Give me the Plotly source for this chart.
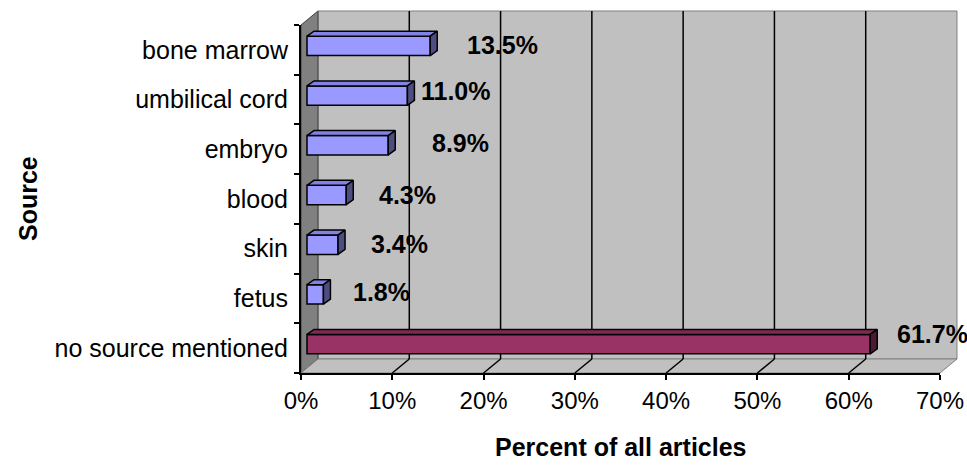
import plotly.graph_objects as go

# ---------------- data ----------------
categories = ["bone marrow", "umbilical cord", "embryo", "blood", "skin", "fetus",
              "no source mentioned"]
percent = [13.5, 11.0, 8.9, 4.3, 3.4, 1.8, 61.7]
highlight_category = "no source mentioned"
x_ticks = [0, 10, 20, 30, 40, 50, 60, 70]
x_tick_labels = [f"{t}%" for t in x_ticks]
x_title = "Percent of all articles"
y_title = "Source"

# ---------------- style / geometry ----------------
FONT = "Liberation Sans, Arial, sans-serif"
W, H = 967, 466
L, R, T, B = 301, 27, 25, 93
X_MAX = 70
n = len(categories)
plot_w = W - L - R
plot_h = H - T - B
ppx = plot_w / X_MAX          # pixels per percent
ppy = plot_h / n              # pixels per category

WALL_DX, WALL_DY = 17, 14     # 3D back-wall offset (px)
BAR_DX, BAR_DY = 6, 4         # bar plane offset (px)
DEPTH_DX, DEPTH_DY = 7, 5     # bar depth (px)
BAR_W = 0.39

BLUE = ("#9999FF", "#8282E6", "#4D4D80")      # front, top, side
MAROON = ("#993366", "#7F2A55", "#4D1A33")
WALL = "#C0C0C0"
SIDE = "#808080"
EDGE = "#808080"

# label nudges (px) to mimic the original label placement
LABEL_GAP = 30
label_nudge_x = [5, -18, 12, 1, 1, -2, -5]
label_nudge_y = [1, 5, 2, 0, 1, 2, 10]

# positions: first category at top
pos = [n - 1 - i for i in range(n)]


def px_x(v):
    """data value (front plane) -> pixel x"""
    return L + v * ppx


def paper_x(px):
    return (px - L) / plot_w


def paper_y(py):
    return (H - B - py) / plot_h


def path(points):
    pts = [f"{paper_x(x):.5f},{paper_y(y):.5f}" for x, y in points]
    return "M" + " L".join(pts) + " Z"


y_top = T
y_bot = H - B
shapes = []
# back wall
shapes.append(dict(type="path", xref="paper", yref="paper", layer="below",
                   path=path([(px_x(0) + WALL_DX, y_top - WALL_DY),
                              (px_x(X_MAX) + WALL_DX, y_top - WALL_DY),
                              (px_x(X_MAX) + WALL_DX, y_bot - WALL_DY),
                              (px_x(0) + WALL_DX, y_bot - WALL_DY)]),
                   fillcolor=WALL, line=dict(color=EDGE, width=1)))
# side wall
shapes.append(dict(type="path", xref="paper", yref="paper", layer="below",
                   path=path([(px_x(0), y_top),
                              (px_x(0) + WALL_DX, y_top - WALL_DY),
                              (px_x(0) + WALL_DX, y_bot - WALL_DY),
                              (px_x(0), y_bot)]),
                   fillcolor=SIDE, line=dict(color="#404040", width=1)))
# floor
shapes.append(dict(type="path", xref="paper", yref="paper", layer="below",
                   path=path([(px_x(0), y_bot),
                              (px_x(0) + WALL_DX, y_bot - WALL_DY),
                              (px_x(X_MAX) + WALL_DX, y_bot - WALL_DY),
                              (px_x(X_MAX), y_bot)]),
                   fillcolor=WALL, line=dict(color=EDGE, width=1)))
# gridlines on back wall and floor
for t in x_ticks[1:-1]:
    xb = px_x(t) + WALL_DX
    shapes.append(dict(type="line", xref="paper", yref="paper", layer="below",
                       x0=paper_x(xb), x1=paper_x(xb),
                       y0=paper_y(y_top - WALL_DY), y1=paper_y(y_bot - WALL_DY),
                       line=dict(color="black", width=1.5)))
    shapes.append(dict(type="line", xref="paper", yref="paper", layer="below",
                       x0=paper_x(xb), x1=paper_x(px_x(t)),
                       y0=paper_y(y_bot - WALL_DY), y1=paper_y(y_bot),
                       line=dict(color="black", width=1.5)))

fig = go.Figure()

# empty trace so that the front (labelled) axes are drawn
fig.add_trace(go.Scatter(x=[], y=[], xaxis="x", yaxis="y", showlegend=False,
                         hoverinfo="skip"))

colors = [MAROON if c == highlight_category else BLUE for c in categories]

# front faces of the bars
fig.add_trace(go.Bar(
    x=percent, y=pos, orientation="h", width=BAR_W,
    marker=dict(color=[c[0] for c in colors], line=dict(color="black", width=1.5)),
    xaxis="x2", yaxis="y2", showlegend=False, hoverinfo="skip"))

ddx = DEPTH_DX / ppx
ddy = DEPTH_DY / ppy
h = BAR_W / 2
for v, p, col in zip(percent, pos, colors):
    # top face
    fig.add_trace(go.Scatter(
        x=[0, v, v + ddx, ddx, 0], y=[p + h, p + h, p + h + ddy, p + h + ddy, p + h],
        mode="lines", fill="toself", fillcolor=col[1],
        line=dict(color="black", width=1.5),
        xaxis="x2", yaxis="y2", showlegend=False, hoverinfo="skip"))
    # side face
    fig.add_trace(go.Scatter(
        x=[v, v, v + ddx, v + ddx, v], y=[p - h, p + h, p + h + ddy, p - h + ddy, p - h],
        mode="lines", fill="toself", fillcolor=col[2],
        line=dict(color="black", width=1.5),
        xaxis="x2", yaxis="y2", showlegend=False, hoverinfo="skip"))

annotations = []
for v, p, nx, ny in zip(percent, pos, label_nudge_x, label_nudge_y):
    annotations.append(dict(
        x=v, y=p, xref="x2", yref="y2", text=f"<b>{v:.1f}%</b>", showarrow=False,
        xanchor="left", yanchor="middle", xshift=LABEL_GAP + nx, yshift=ny,
        font=dict(family=FONT, size=25, color="black")))

annotations.append(dict(
    x=paper_x(621), y=paper_y(447), xref="paper", yref="paper", text=f"<b>{x_title}</b>",
    showarrow=False, xanchor="center", yanchor="middle",
    font=dict(family=FONT, size=25, color="black")))
annotations.append(dict(
    x=paper_x(28), y=paper_y(199), xref="paper", yref="paper", text=f"<b>{y_title}</b>",
    showarrow=False, xanchor="center", yanchor="middle", textangle=-90,
    font=dict(family=FONT, size=25, color="black")))

x_shift = BAR_DX / ppx
y_shift = BAR_DY / ppy

fig.update_layout(
    width=W, height=H,
    margin=dict(l=L, r=R, t=T, b=B, autoexpand=False),
    paper_bgcolor="white", plot_bgcolor="rgba(0,0,0,0)",
    font=dict(family=FONT, size=24, color="black"),
    shapes=shapes, annotations=annotations, showlegend=False,
    xaxis=dict(range=[0, X_MAX], tickmode="array", tickvals=x_ticks, ticktext=x_tick_labels,
               ticks="outside", ticklen=5, tickwidth=1.5, tickcolor="black",
               showline=True, linecolor="black", linewidth=2, showgrid=False,
               zeroline=False, tickfont=dict(size=24, color="black"), fixedrange=True,
               automargin=False),
    yaxis=dict(range=[-0.5, n - 0.5], tickmode="array", tickvals=pos, ticktext=categories,
               ticks="", ticklabelstandoff=6,
               minor=dict(tickmode="array", tickvals=[i - 0.5 for i in range(n + 1)],
                          ticks="outside", ticklen=5, tickwidth=1.5, tickcolor="black",
                          showgrid=False),
               showline=True, linecolor="black", linewidth=2, showgrid=False,
               zeroline=False, tickfont=dict(size=25, color="black"), fixedrange=True,
               automargin=False),
    xaxis2=dict(overlaying="x", anchor="y2", range=[-x_shift, X_MAX - x_shift],
                visible=False, fixedrange=True, automargin=False),
    yaxis2=dict(overlaying="y", anchor="x2", range=[-0.5 - y_shift, n - 0.5 - y_shift],
                visible=False, fixedrange=True, automargin=False),
)

fig.write_html("out.html")
